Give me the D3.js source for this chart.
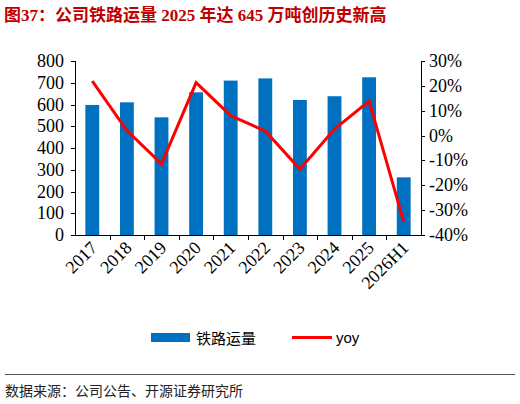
<!DOCTYPE html>
<html><head><meta charset="utf-8">
<script src="https://cdn.jsdelivr.net/npm/d3@7"></script>
<style>body{margin:0;background:#fff}</style>
</head><body>
<script>
var categories = ["2017","2018","2019","2020","2021","2022","2023","2024","2025","2026H1"];
var volume = [598,610,541,656,710,720,621,638,725,265];
var yoy = [21.9,2.0,-11.4,21.3,8.0,1.8,-13.5,2.6,13.9,-34.6];
var leftTicks = [0,100,200,300,400,500,600,700,800];
var rightTicks = [-40,-30,-20,-10,0,10,20,30];

var W = 520, H = 404;
var svg = d3.select("body").append("svg").attr("width", W).attr("height", H);
var m = {left:75, right:421, top:61, zero:235};
var serif = "'Liberation Serif','DejaVu Serif',serif";
var cjk = "'Noto Sans CJK SC',sans-serif";

svg.append("text").attr("x",4).attr("y",21)
  .attr("fill","#C00000").attr("font-weight","bold").attr("font-size",17)
  .attr("font-family","'Liberation Serif','Noto Sans CJK SC',serif")
  .text("图37：公司铁路运量 2025 年达 645 万吨创历史新高");

var x = d3.scaleBand().domain(categories).range([m.left, m.right]);
var yL = d3.scaleLinear().domain([0,800]).range([m.zero, m.top]);
var yR = d3.scaleLinear().domain([-40,30]).range([m.zero, m.top]);

svg.selectAll(".bar").data(categories).enter().append("rect")
  .attr("x", function(d){return x(d) + x.bandwidth()*0.3;})
  .attr("width", x.bandwidth()*0.4)
  .attr("y", function(d,i){return yL(volume[i]);})
  .attr("height", function(d,i){return m.zero - yL(volume[i]);})
  .attr("fill","#0070C0");

// axes
var ax = svg.append("g").attr("stroke","#000").attr("stroke-width",1).attr("fill","none");
ax.append("path").attr("d","M"+(m.left+0.5)+","+m.top+"V"+(m.zero+0.5)+"H"+(m.right+0.5)+"V"+m.top);
leftTicks.forEach(function(t){
  ax.append("line").attr("x1",m.left-4).attr("x2",m.left).attr("y1",Math.round(yL(t))+0.5).attr("y2",Math.round(yL(t))+0.5);
  svg.append("text").attr("x",m.left-11).attr("y",yL(t)+6).attr("text-anchor","end")
    .attr("font-family",serif).attr("font-size",18).text(t);
});
rightTicks.forEach(function(t){
  ax.append("line").attr("x1",m.right).attr("x2",m.right+4).attr("y1",Math.round(yR(t))+0.5).attr("y2",Math.round(yR(t))+0.5);
  svg.append("text").attr("x",m.right+8).attr("y",yR(t)+6)
    .attr("font-family",serif).attr("font-size",18).text(t+"%");
});
categories.forEach(function(c,i){
  if(i>0) ax.append("line").attr("x1",Math.round(x(c))+0.5).attr("x2",Math.round(x(c))+0.5).attr("y1",m.zero).attr("y2",m.zero+5);
  var cx = x(c)+x.bandwidth()/2+6;
  svg.append("text").attr("transform","translate("+cx+","+(m.zero+14)+") rotate(-45)")
    .attr("text-anchor","end").attr("font-family",serif).attr("font-size",18).text(c);
});

var line = d3.line().x(function(d,i){return x(categories[i])+x.bandwidth()/2;}).y(function(d){return yR(d);});
svg.append("path").datum(yoy).attr("d",line).attr("fill","none").attr("stroke","#FF0000").attr("stroke-width",3);

// legend
svg.append("rect").attr("x",151).attr("y",333).attr("width",39).attr("height",9).attr("fill","#0070C0");
svg.append("text").attr("x",196).attr("y",344).attr("font-family",cjk).attr("font-size",15).text("铁路运量");
svg.append("line").attr("x1",292).attr("x2",332).attr("y1",337.5).attr("y2",337.5).attr("stroke","#FF0000").attr("stroke-width",3);
svg.append("text").attr("x",336).attr("y",343).attr("font-family","'Liberation Sans',sans-serif").attr("font-size",15).text("yoy");

svg.append("line").attr("x1",5).attr("x2",515).attr("y1",374.5).attr("y2",374.5).attr("stroke","#555").attr("stroke-width",1);
svg.append("text").attr("x",5).attr("y",396).attr("font-family",cjk).attr("font-size",14).attr("fill","#222")
  .text("数据来源：公司公告、开源证券研究所");
</script>
</body></html>
